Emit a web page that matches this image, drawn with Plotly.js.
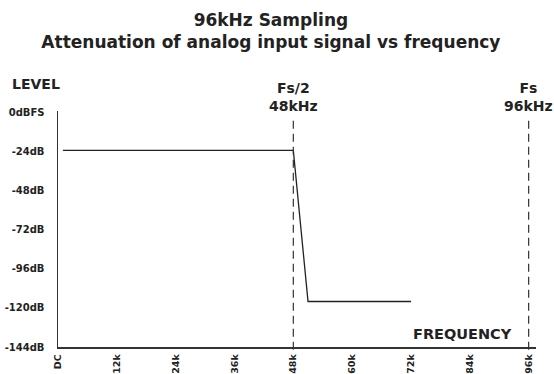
<!DOCTYPE html>
<html><head><meta charset="utf-8">
<script src="https://cdn.plot.ly/plotly-3.0.1.min.js"></script>
<style>html,body{margin:0;padding:0;background:#fff;}#chart{width:554px;height:374px;}</style>
</head><body><div id="chart"></div>
<script>
// Frequency (Hz) and level (dB) of the response curve
const freqHz = [1000, 48000, 51000, 72000];
const levelDb = [-23, -23, -116, -116];
// Axis ticks
const xTickVals = [0, 12000, 24000, 36000, 48000, 60000, 72000, 84000, 96000];
const xTickText = ['DC', '12k', '24k', '36k', '48k', '60k', '72k', '84k', '96k'];
const yTickVals = [0, -24, -48, -72, -96, -120, -144];
const yTickText = ['0dBFS', '-24dB', '-48dB', '-72dB', '-96dB', '-120dB', '-144dB'];
// Marker lines (Fs/2 and Fs)
const markerFreqs = [48000, 96000];
const markerLabels = ['Fs/2<br>48kHz', 'Fs<br>96kHz'];

const FONT = '"DejaVu Sans", sans-serif';

const shapes = markerFreqs.map(f => ({
  type: 'line', xref: 'x', yref: 'paper', x0: f, x1: f, y0: -0.012, y1: 0.97,
  line: {color: '#333', width: 1.2, dash: '8px,5px'}
}));

const annotations = [
  {text: '<b>LEVEL</b>', xref: 'paper', yref: 'paper', x: -0.1, y: 1.115, xanchor: 'left', yanchor: 'middle', showarrow: false, font: {family: FONT, size: 14, color: '#222'}},
  {text: '<b>FREQUENCY</b>', xref: 'paper', yref: 'paper', x: 0.955, y: 0.055, xanchor: 'right', yanchor: 'middle', showarrow: false, font: {family: FONT, size: 14.5, color: '#222'}}
];
markerFreqs.forEach((f, i) => annotations.push({
  text: '<b>' + markerLabels[i] + '</b>', xref: 'x', yref: 'paper', x: f, y: 1.06, xanchor: 'center', yanchor: 'middle',
  showarrow: false, font: {family: FONT, size: 14, color: '#222'}, align: 'center'
}));

Plotly.newPlot('chart', [{
  x: freqHz, y: levelDb, type: 'scatter', mode: 'lines',
  line: {color: '#222', width: 1.3}, hoverinfo: 'none'
}], {
  width: 554, height: 374,
  margin: {l: 58, r: 18, t: 111, b: 27},
  paper_bgcolor: '#fff', plot_bgcolor: '#fff',
  showlegend: false,
  title: {text: '<b>96kHz Sampling<br>Attenuation of analog input signal vs frequency</b>', x: 0.489, xanchor: 'center', y: 0.93, yanchor: 'middle', font: {family: FONT, size: 17, color: '#222'}},
  xaxis: {range: [0, 97500], tickvals: xTickVals, ticktext: xTickText, tickangle: -90, showgrid: false, zeroline: false,
    showline: true, linecolor: '#333', linewidth: 1.5, ticks: 'outside', ticklen: 2, tickcolor: 'rgba(0,0,0,0)',
    tickfont: {family: FONT, size: 9.5, color: '#222', weight: 'bold'}, fixedrange: true},
  yaxis: {range: [-144, 1.2], tickvals: yTickVals, ticktext: yTickText, showgrid: false, zeroline: false,
    showline: true, linecolor: '#333', linewidth: 1.5, ticks: 'outside', ticklen: 10, tickcolor: 'rgba(0,0,0,0)',
    tickfont: {family: FONT, size: 10, color: '#222', weight: 'bold'}, fixedrange: true},
  shapes: shapes, annotations: annotations
}, {displayModeBar: false, staticPlot: true});
</script></body></html>
